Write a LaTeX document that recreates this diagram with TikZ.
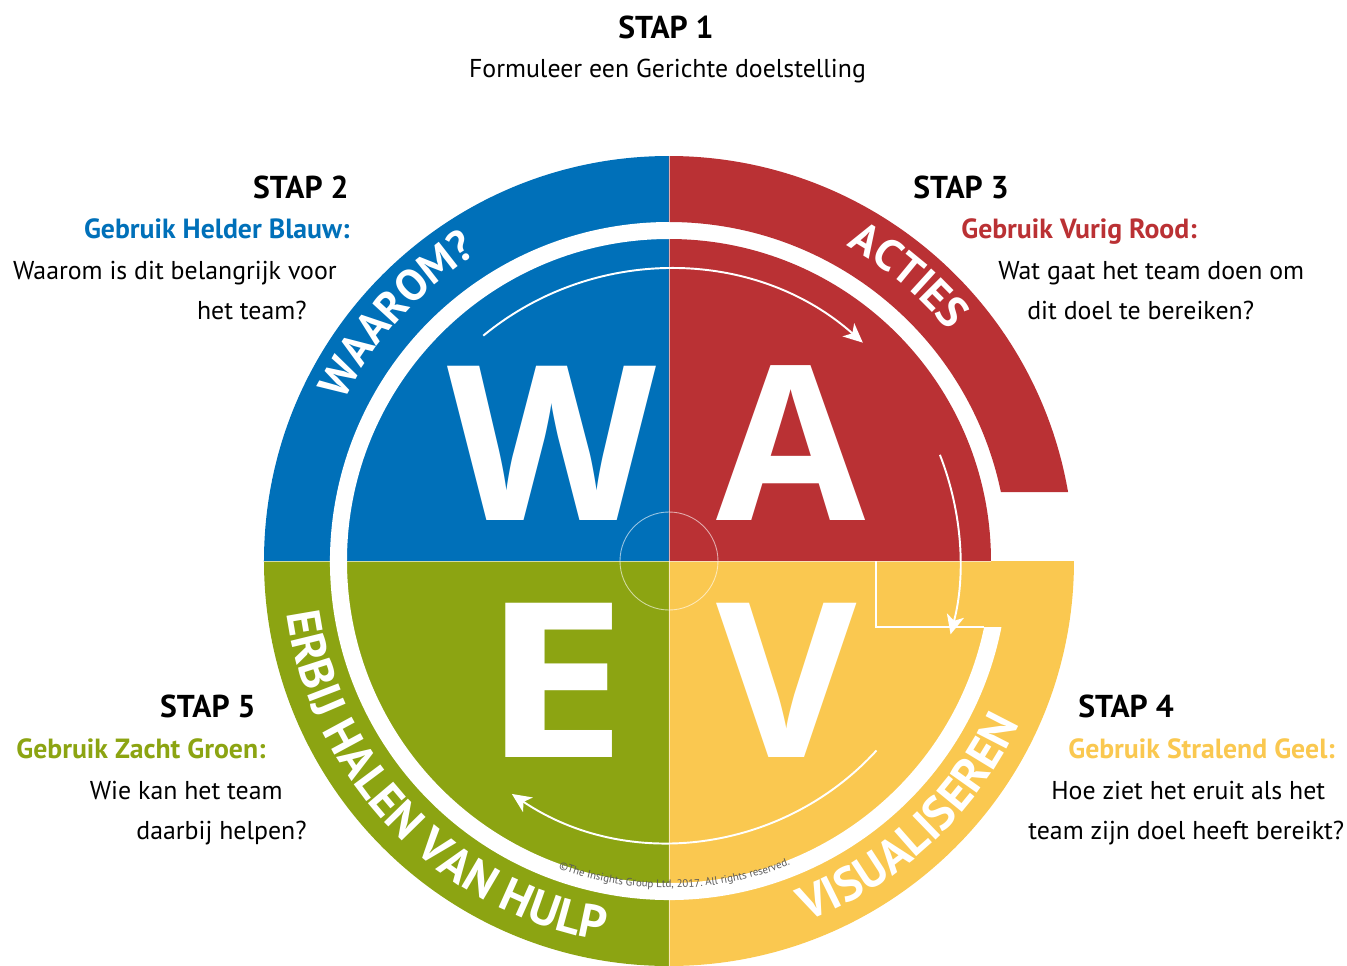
\documentclass[tikz,border=0pt]{standalone}
\usepackage{fontspec}
\setmainfont{PT Sans}
\newfontfamily\letterfont{Open Sans}
\usepackage{tikz}
\usetikzlibrary{arrows.meta,decorations.text}
\definecolor{blauw}{RGB}{0,112,185}
\definecolor{rood}{RGB}{186,49,52}
\definecolor{groen}{RGB}{140,164,18}
\definecolor{geel}{RGB}{250,200,80}
\definecolor{kopij}{RGB}{90,90,90}
\newcommand{\bandfont}{\fontsize{25}{25}\selectfont\bfseries\color{white}}
\newcommand{\bandfontonder}{\fontsize{27}{27}\selectfont\bfseries\color{white}}
\newcommand{\kleinfont}{\fontsize{6.2}{6.2}\selectfont\color{kopij}}
\tikzset{
    %Define standard arrow tip
    >={Stealth[length=11pt,width=10pt,inset=3pt]},
    %Define style for step headings
    kop/.style={
           font=\fontsize{18}{18}\selectfont\bfseries,
           inner sep=0pt},
    % Coloured line under heading
    kleur/.style={
           font=\fontsize{15.8}{15.8}\selectfont\bfseries,
           text=#1,
           inner sep=0pt},
    % Explanation lines
    uitleg/.style={
           font=\fontsize{14.7}{14.7}\selectfont,
           inner sep=0pt},
    % Big letters in the disk
    letter/.style={
           font=\fontsize{123}{123}\letterfont\bfseries,
           text=white,
           inner sep=0pt,
           anchor=base},
    % Thin white arrows
    pijl/.style={
           ->,
           white,
           line width=1.1pt},
    % Thin dividing lines
    rand/.style={
           white,
           opacity=0.6,
           line width=0.5pt}
}

\begin{document}
\begin{tikzpicture}[x=0.02cm, y=0.02cm]
    \useasboundingbox (-669,-404) rectangle (678,561);
    % quadrants
    \fill[blauw] (0,0) -- (90:405) arc[start angle=90, end angle=180, radius=405] -- cycle;
    \fill[groen] (0,0) -- (180:405) arc[start angle=180, end angle=270, radius=405] -- cycle;
    \fill[geel] (0,0) -- (270:405) arc[start angle=270, end angle=360, radius=405] -- cycle;
    \fill[rood] (0,0) -- (0:322) arc[start angle=0, end angle=90, radius=322] -- cycle;
    \fill[rood] (90:339) -- (90:405) arc[start angle=90, end angle=9.81, radius=405]
        -- (11.74:339) arc[start angle=11.74, end angle=90, radius=339] -- cycle;
    % white ring
    \fill[white] (90:322) arc[start angle=90, end angle=348.17, radius=322]
        -- (348.77:339) arc[start angle=348.77, end angle=90, radius=339] -- cycle;
    % thin lines
    \draw[rand] (0,405) -- (0,-405);
    \draw[rand] (-405,0) -- (322,0);
    \draw[rand] (0,0) circle[radius=49];
    \draw[white, line width=0.8pt] (207,0) -- (207,-66) -- (315,-66);

    % letters
    \node[letter] (w) at (-117,41) {W};
    \node[letter] (a) at (122,41) {A};
    \node[letter] (e) at (-114,-196) {\scalebox{1.2}[1]{E}};
    \node[letter] (v) at (118,-196) {V};

    % arrows
    \draw[pijl] (129.5:292) arc[start angle=129.5, end angle=48.4, radius=292];
    \draw[pijl] (21.4:291) arc[start angle=21.4, end angle=-14.6, radius=291];
    \draw[pijl] (-42.4:281) arc[start angle=-42.4, end angle=-124, radius=281];

    % band texts
    \path[decorate, decoration={text along path, text align=center,
        text={|\bandfont|WAAROM?}}]
        (170:362) arc[start angle=170, end angle=106, radius=362];
    \path[decorate, decoration={text along path, text align=center,
        text={|\bandfont|ACTIES}}]
        (85:362) arc[start angle=85, end angle=15, radius=362];
    \path[decorate, decoration={text along path, text align=center,
        text={|\bandfontonder|VISUALISEREN}}]
        (-87:386) arc[start angle=-87, end angle=-7, radius=386];
    \path[decorate, decoration={text along path, text align=center,
        text={|\bandfontonder|ERBIJ HALEN VAN HULP}}]
        (166:386) arc[start angle=166, end angle=282, radius=386];
    \path[decorate, decoration={text along path, text align=center,
        text={|\kleinfont|©The Insights Group Ltd, 2017. All rights reserved.}}]
        (-115:327) arc[start angle=-115, end angle=-63, radius=327];

    % step 1
    \node[kop, anchor=base] (stap1) at (-3,523) {STAP 1};
    \node[uitleg, anchor=base] (doel1) at (-1.5,484) {Formuleer een Gerichte doelstelling};
    % step 2
    \node[kop, anchor=base east] (stap2) at (-320,363) {STAP 2};
    \node[kleur=blauw, anchor=base east] (kleur2) at (-319,323) {Gebruik Helder Blauw:};
    \node[uitleg, anchor=base east] (vraag2a) at (-332,282) {Waarom is dit belangrijk voor};
    \node[uitleg, anchor=base east] (vraag2b) at (-362,242) {het team?};
    % step 3
    \node[kop, anchor=base west] (stap3) at (244,363) {STAP 3};
    \node[kleur=rood, anchor=base west] (kleur3) at (292,323) {Gebruik Vurig Rood:};
    \node[uitleg, anchor=base west] (vraag3a) at (329,282) {Wat gaat het team doen om};
    \node[uitleg, anchor=base west] (vraag3b) at (358,242) {dit doel te bereiken?};
    % step 4
    \node[kop, anchor=base west] (stap4) at (409,-156) {STAP 4};
    \node[kleur=geel, anchor=base west] (kleur4) at (399,-197) {Gebruik Stralend Geel:};
    \node[uitleg, anchor=base west] (vraag4a) at (382,-238) {Hoe ziet het eruit als het};
    \node[uitleg, anchor=base west] (vraag4b) at (359,-278) {team zijn doel heeft bereikt?};
    % step 5
    \node[kop, anchor=base east] (stap5) at (-413,-156) {STAP 5};
    \node[kleur=groen, anchor=base east] (kleur5) at (-403,-197) {Gebruik Zacht Groen:};
    \node[uitleg, anchor=base east] (vraag5a) at (-386,-238) {Wie kan het team};
    \node[uitleg, anchor=base east] (vraag5b) at (-362,-278) {daarbij helpen?};
\end{tikzpicture}
\end{document}
